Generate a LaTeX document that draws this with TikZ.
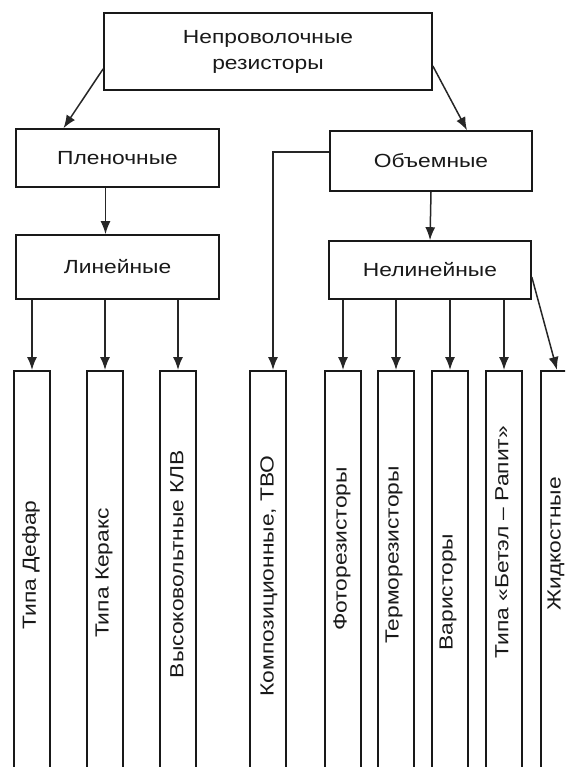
\documentclass[tikz,border=0pt]{standalone}
\usepackage{fontspec}
\setmainfont{Liberation Sans}[FakeStretch=1.2]
\usetikzlibrary{arrows.meta}

\begin{document}
\begin{tikzpicture}[x=1pt, y=-1pt, >={Latex[length=13pt,width=10pt]},
    font=\fontsize{19}{26}\selectfont, text=black!90]

  \tikzstyle{box}=[draw=black!90, line width=1.6pt, inner sep=0pt, align=center]
  \tikzstyle{leaf}=[box, anchor=north, minimum width=36pt, minimum height=430pt]
  \tikzstyle{link}=[black!85, line width=1.5pt, ->]

  \useasboundingbox (0,0) rectangle (565,767);
  \clip (0,0) rectangle (565,767);

  \node [box, minimum width=328pt, minimum height=77pt] (root) at (268,51.5)
    {Непроволочные\\резисторы};

  \node [box, minimum width=203pt, minimum height=58pt] (film) at (117.5,158) {Пленочные};
  \node [box, minimum width=202pt, minimum height=60pt] (bulk) at (431,161) {Объемные};

  \node [box, minimum width=203pt, minimum height=64pt] (lin) at (117.5,267) {Линейные};
  \node [box, minimum width=202pt, minimum height=58pt] (nonlin) at (430,270) {Нелинейные};

  % lower row of kinds
  \foreach \n/\x/\tx/\ty/\t in {
      d1/32/31/565/{Типа Дефар},
      d2/105/104/573/{Типа Керакс},
      d3/178/177/564/{Высоковольтные КЛВ},
      d4/268/269/576/{Композиционные, ТВО},
      d5/343/342/549/{Фоторезисторы},
      d6/396/394/555/{Терморезисторы},
      d7/450/448/592/{Варисторы},
      d8/504/502/542/{Типа «Бетэл – Рапит»},
      d9/559/556/544/{Жидкостные}} {
    \node [leaf] (\n) at (\x,370) {};
    \node [rotate=90, inner sep=0pt] (\n-t) at (\tx,\ty) {\t};
  }

  \draw [link] (root.186) -- ([xshift=-54pt]film.north);
  \draw [link] (root.-5) -- ([xshift=36pt]bulk.north);

  \draw [link] ([xshift=-12pt]film.south) -- ([xshift=-12pt]lin.north);
  \draw [link] (bulk.south) -- (nonlin.north);

  \draw [link] ([yshift=9pt]bulk.west) -| ([xshift=5pt]d4.north);

  \draw [link] (lin.south -| d1.north) -- (d1.north);
  \draw [link] (lin.south -| d2.north) -- (d2.north);
  \draw [link] (lin.south -| d3.north) -- (d3.north);

  \draw [link] (nonlin.south -| d5.north) -- (d5.north);
  \draw [link] (nonlin.south -| d6.north) -- (d6.north);
  \draw [link] (nonlin.south -| d7.north) -- (d7.north);
  \draw [link] (nonlin.south -| d8.north) -- (d8.north);
  \draw [link] ([yshift=-7pt]nonlin.east) -- ([xshift=-2pt]d9.north);

\end{tikzpicture}
\end{document}
